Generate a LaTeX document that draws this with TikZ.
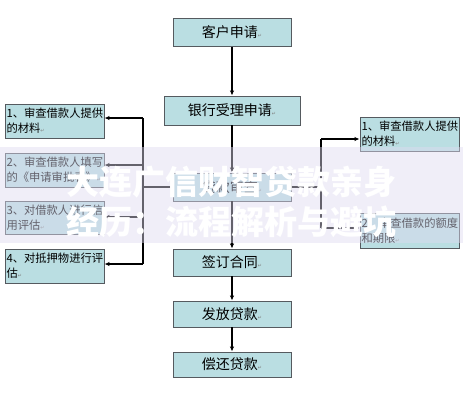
\documentclass[tikz,border=0pt]{standalone}
\usepackage{fontspec}
\setmainfont{Noto Sans CJK SC}
\newfontfamily\symfont{DejaVu Sans}
\usetikzlibrary{arrows.meta}
\definecolor{boxfill}{RGB}{186,222,226}
\definecolor{boxline}{RGB}{85,90,95}
\definecolor{band}{RGB}{222,218,240}
\newcommand{\rt}{{\symfont\fontsize{5}{5}\selectfont\color{gray}↵}}

\begin{document}
\begin{tikzpicture}[x=1pt,y=-1pt,
  main/.style={draw=boxline,fill=boxfill,line width=0.9pt,minimum width=118pt,minimum height=28pt,inner sep=0pt,font=\fontsize{14}{15}\selectfont},
  side/.style={draw=boxline,fill=boxfill,line width=0.9pt,minimum height=34pt,inner sep=1.5pt,text width=96pt,align=left,font=\fontsize{11.3}{15}\selectfont},
  line/.style={line width=1.3pt,-{Latex[length=5pt,width=4.5pt]}}]
\useasboundingbox (0,0) rectangle (463,400);

% main column
\node[main] (a) at (232,32.5) {客户申请\rt};
\node[main,minimum width=136pt,minimum height=29pt] (b) at (232,110.5) {银行受理申请\rt};
\node[main] (c) at (232,187) {贷款审查\rt};
\node[main,minimum height=27pt] (d) at (232,262.5) {签订合同\rt};
\node[main,minimum height=26pt] (e) at (232,314) {发放贷款\rt};
\node[main,minimum height=25pt] (f) at (232,364.5) {偿还贷款\rt};

% left checks
\node[side] (l1) at (54.5,121) {1、审查借款人提供\\的材料\rt};
\node[side] (l2) at (54.5,170) {2、审查借款人填写\\的《申请审批表》\rt};
\node[side,minimum height=33pt] (l3) at (54.5,217.5) {3、对借款人进行信\\用评估\rt};
\node[side] (l4) at (54.5,266) {4、对抵押物进行评\\估\rt};

% right checks
\node[side] (r1) at (409.5,134) {1、审查借款人提供\\的材料\rt};
\node[side,minimum height=35pt] (r2) at (409.5,230.5) {2、审查借款的额度\\和期限\rt};

\draw[line] (a) -- (b);
\draw[line] (b) -- (c);
\draw[line] (c) -- (d);
\draw[line] (d) -- (e);
\draw[line] (e) -- (f);

\coordinate (lt) at (143,118);
\coordinate (lb) at (143,264);
\draw[line width=1.3pt] (c.west) -- (c.west -| lt);
\draw[line width=1.3pt] (lt) -- (lb);
\foreach \n/\y in {l1/118,l2/165,l3/217,l4/264}
  \draw[line] (143,\y) -- (\n.east |- 143,\y);

\coordinate (rt) at (321,139);
\coordinate (rb) at (321,228);
\draw[line width=1.3pt] (c.east) -- (c.east -| rt);
\draw[line width=1.3pt] (rt) -- (rb);
\draw[line] (rt) -- (rt -| r1.west);
\draw[line] (rb) -- (rb -| r2.west);

% watermark band
\fill[band,opacity=0.45] (0,147) rectangle (463,243);
\node[text=white,align=center,font=\fontsize{33}{40}\selectfont\bfseries] (wm) at (231,202)
  {大连广信财智贷款亲身\\经历：流程解析与避坑};
\end{tikzpicture}
\end{document}
